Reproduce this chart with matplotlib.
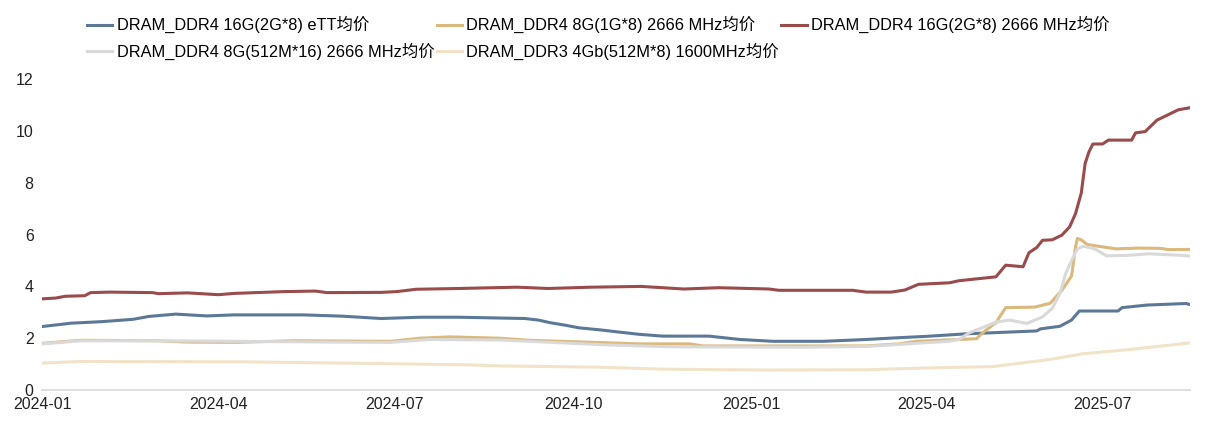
import pandas as pd
import matplotlib
matplotlib.use("Agg")
import matplotlib.pyplot as plt
import matplotlib.dates as md

plt.rcParams['font.family'] = ['Liberation Sans', 'Noto Sans CJK SC', 'DejaVu Sans']

# DRAM_DDR4 16G(2G*8) eTT
eTT_dates = ["2024-01-01", "2024-01-16", "2024-02-01", "2024-02-17", "2024-02-25", "2024-03-10",
             "2024-03-26", "2024-04-09", "2024-05-15", "2024-06-04", "2024-06-24", "2024-07-14",
             "2024-08-03", "2024-09-06", "2024-09-13", "2024-09-19", "2024-09-27", "2024-10-04",
             "2024-10-15", "2024-10-23", "2024-11-04", "2024-11-16", "2024-12-10", "2024-12-26",
             "2025-01-12", "2025-02-07", "2025-03-01", "2025-03-18", "2025-04-01", "2025-04-22",
             "2025-05-28", "2025-05-30", "2025-06-09", "2025-06-15", "2025-06-19", "2025-07-09",
             "2025-07-11", "2025-07-24", "2025-08-13", "2025-08-15"]
eTT_vals = [2.45, 2.58, 2.64, 2.73, 2.84, 2.93,
            2.86, 2.90, 2.90, 2.85, 2.76, 2.81,
            2.81, 2.76, 2.70, 2.60, 2.50, 2.40,
            2.32, 2.25, 2.15, 2.08, 2.08, 1.95,
            1.88, 1.88, 1.95, 2.02, 2.07, 2.17,
            2.28, 2.36, 2.46, 2.70, 3.05, 3.05,
            3.18, 3.28, 3.34, 3.30]

# DRAM_DDR4 8G(1G*8) 2666 MHz
g8_dates = ["2024-01-01", "2024-01-21", "2024-03-01", "2024-03-16", "2024-04-10", "2024-05-10",
            "2024-06-29", "2024-07-14", "2024-07-29", "2024-08-24", "2024-09-08", "2024-10-15",
            "2024-11-04", "2024-11-30", "2024-12-07", "2025-03-01", "2025-03-18", "2025-03-27",
            "2025-04-27", "2025-04-30", "2025-05-07", "2025-05-12", "2025-05-27", "2025-06-04",
            "2025-06-10", "2025-06-15", "2025-06-17", "2025-06-18", "2025-06-20", "2025-06-23",
            "2025-06-29", "2025-07-08", "2025-07-19", "2025-07-31", "2025-08-04", "2025-08-15"]
g8_vals = [1.80, 1.92, 1.90, 1.85, 1.84, 1.90,
           1.88, 2.00, 2.05, 2.00, 1.92, 1.83,
           1.78, 1.78, 1.70, 1.70, 1.78, 1.88,
           1.98, 2.20, 2.60, 3.18, 3.20, 3.35,
           3.85, 4.40, 5.50, 5.85, 5.80, 5.62,
           5.55, 5.45, 5.48, 5.47, 5.42, 5.43]

# DRAM_DDR4 16G(2G*8) 2666 MHz
g16_dates = ["2024-01-01", "2024-01-08", "2024-01-13", "2024-01-23", "2024-01-26", "2024-02-05",
             "2024-02-27", "2024-03-01", "2024-03-16", "2024-04-01", "2024-04-09", "2024-05-05",
             "2024-05-21", "2024-05-27", "2024-06-24", "2024-07-02", "2024-07-12", "2024-08-03",
             "2024-09-02", "2024-09-18", "2024-10-10", "2024-11-05", "2024-11-27", "2024-12-15",
             "2025-01-10", "2025-01-15", "2025-02-22", "2025-03-01", "2025-03-14", "2025-03-21",
             "2025-03-28", "2025-04-13", "2025-04-18", "2025-05-07", "2025-05-12", "2025-05-21",
             "2025-05-24", "2025-05-28", "2025-05-31", "2025-06-05", "2025-06-10", "2025-06-14",
             "2025-06-17", "2025-06-20", "2025-06-22", "2025-06-24", "2025-06-26", "2025-07-01",
             "2025-07-04", "2025-07-16", "2025-07-18", "2025-07-23", "2025-07-29", "2025-08-03",
             "2025-08-09", "2025-08-15"]
g16_vals = [3.52, 3.55, 3.62, 3.64, 3.76, 3.78,
            3.76, 3.72, 3.75, 3.68, 3.73, 3.80,
            3.82, 3.76, 3.77, 3.80, 3.89, 3.92,
            3.97, 3.92, 3.97, 4.00, 3.90, 3.95,
            3.90, 3.85, 3.85, 3.78, 3.78, 3.86,
            4.08, 4.14, 4.22, 4.37, 4.82, 4.76,
            5.30, 5.50, 5.78, 5.80, 5.98, 6.30,
            6.80, 7.60, 8.75, 9.20, 9.50, 9.50,
            9.65, 9.65, 9.93, 9.98, 10.42, 10.60,
            10.82, 10.90]

# DRAM_DDR4 8G(512M*16) 2666 MHz
m512_dates = ["2024-01-01", "2024-01-21", "2024-03-01", "2024-04-10", "2024-05-30", "2024-06-29",
              "2024-07-19", "2024-08-24", "2024-09-11", "2024-10-15", "2024-11-18", "2025-01-26",
              "2025-03-01", "2025-03-18", "2025-04-13", "2025-04-18", "2025-04-23", "2025-05-07",
              "2025-05-14", "2025-05-23", "2025-05-31", "2025-06-05", "2025-06-09", "2025-06-12",
              "2025-06-15", "2025-06-18", "2025-06-21", "2025-06-27", "2025-07-03", "2025-07-14",
              "2025-07-25", "2025-08-10", "2025-08-15"]
m512_vals = [1.78, 1.90, 1.90, 1.88, 1.85, 1.84,
             1.95, 1.93, 1.87, 1.75, 1.67, 1.65,
             1.68, 1.76, 1.88, 1.95, 2.20, 2.62,
             2.70, 2.57, 2.82, 3.15, 3.73, 4.50,
             5.00, 5.45, 5.55, 5.45, 5.18, 5.20,
             5.26, 5.20, 5.17]

# DRAM_DDR3 4Gb(512M*8) 1600MHz
d3_dates = ["2024-01-01", "2024-01-21", "2024-04-10", "2024-06-24", "2024-08-08", "2024-08-24",
            "2024-10-15", "2024-11-18", "2025-01-09", "2025-03-01", "2025-03-18", "2025-04-13",
            "2025-05-05", "2025-06-04", "2025-06-21", "2025-07-16", "2025-08-15"]
d3_vals = [1.04, 1.10, 1.09, 1.02, 0.97, 0.93,
           0.88, 0.80, 0.77, 0.78, 0.82, 0.87,
           0.90, 1.18, 1.40, 1.57, 1.82]

fig = plt.figure(figsize=(12.12, 4.37), dpi=100)
ax = fig.add_axes([0.0347, 0.1076, 0.947, 0.711])

l1, = ax.plot(pd.to_datetime(eTT_dates), eTT_vals, color='#5b7997', lw=2.2,
              label='DRAM_DDR4 16G(2G*8) eTT均价')
l2, = ax.plot(pd.to_datetime(g8_dates), g8_vals, color='#dbb87c', lw=2.2,
              label='DRAM_DDR4 8G(1G*8) 2666 MHz均价')
l4, = ax.plot(pd.to_datetime(m512_dates), m512_vals, color='#d9d9d9', lw=2.2,
              label='DRAM_DDR4 8G(512M*16) 2666 MHz均价')
l5, = ax.plot(pd.to_datetime(d3_dates), d3_vals, color='#f0e3c8', lw=2.2,
              label='DRAM_DDR3 4Gb(512M*8) 1600MHz均价')
l3, = ax.plot(pd.to_datetime(g16_dates), g16_vals, color='#9a4b4b', lw=2.2,
              label='DRAM_DDR4 16G(2G*8) 2666 MHz均价')

ax.set_ylim(0, 12)
ax.set_yticks([0, 2, 4, 6, 8, 10, 12])
ax.set_xlim(pd.Timestamp("2024-01-01"), pd.Timestamp("2025-08-15"))
ax.xaxis.set_major_locator(md.MonthLocator(bymonth=[1, 4, 7, 10]))
ax.xaxis.set_major_formatter(md.DateFormatter("%Y-%m"))
ax.tick_params(axis='both', length=0, labelsize=11.5, colors='#222222')
ax.tick_params(axis='y', pad=6)
ax.tick_params(axis='x', pad=5)
for s in ['top', 'right', 'left']:
    ax.spines[s].set_visible(False)
ax.spines['bottom'].set_color('#d9d9d9')
ax.spines['bottom'].set_linewidth(1.2)

# row-major order for a 3-column legend
handles = [l1, l4, l2, l5, l3]
fig.legend(handles=handles, labels=[h.get_label() for h in handles], ncol=3,
           loc='upper left', bbox_to_anchor=(0.0718, 0.963), frameon=False,
           fontsize=11.8, handlelength=1.55, handletextpad=0.25, columnspacing=0.15,
           labelspacing=0.55, borderaxespad=0, borderpad=0)

fig.savefig("out.png", dpi=100)
